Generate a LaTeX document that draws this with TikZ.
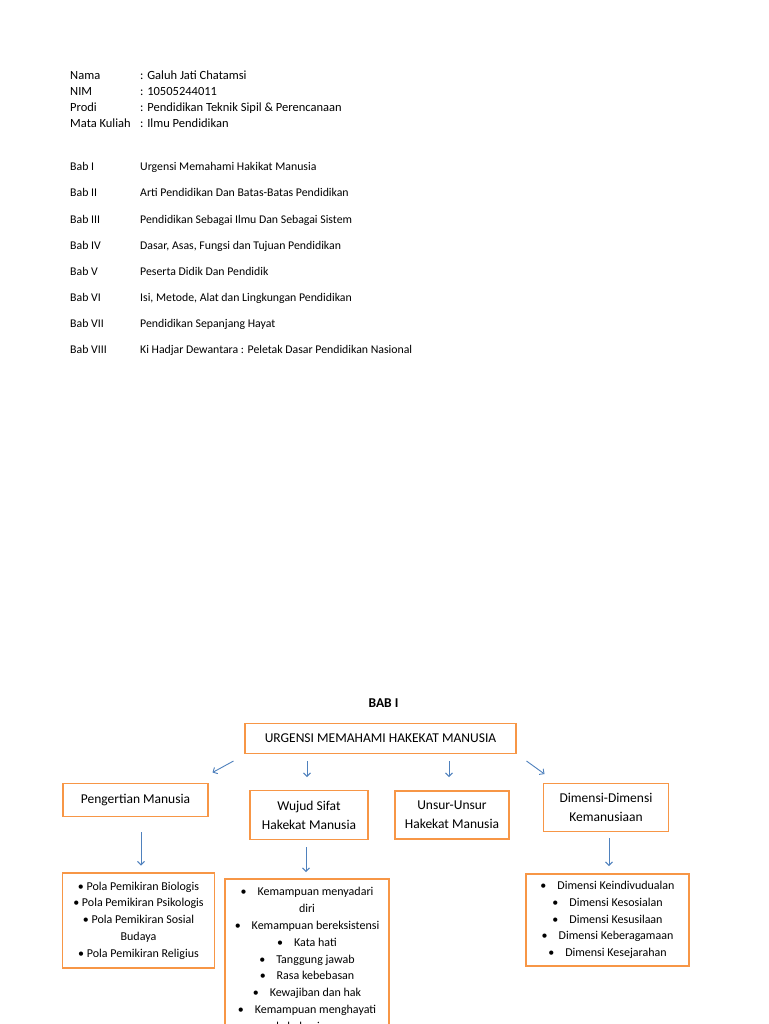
\documentclass[tikz,border=0pt]{standalone}
\usepackage{fontspec}
\setmainfont{Carlito}
\usetikzlibrary{arrows.meta}
\definecolor{boxorange}{HTML}{F79646}
\definecolor{arrowblue}{HTML}{4F81BD}
\newcommand{\bul}{\textbullet\ }
\newcommand{\tbul}{\textbullet\hspace{11pt}}

\begin{document}
\begin{tikzpicture}[x=1pt, y=-1pt,
  info/.style={anchor=base west, inner sep=0pt, font=\fontsize{12.5}{15}\selectfont},
  babline/.style={anchor=base west, inner sep=0pt, font=\fontsize{11.8}{14}\selectfont},
  ttl/.style={draw=boxorange, line width=1.8pt, fill=white, align=center,
    inner sep=2pt, font=\fontsize{13.5}{19}\selectfont},
  lst/.style={draw=boxorange, line width=1.8pt, fill=white, align=center,
    inner sep=2pt, font=\fontsize{12}{16.8}\selectfont},
  arr/.style={-{Straight Barb[length=3.5pt, width=7pt]}, arrowblue, line width=0.9pt},
]
\useasboundingbox[fill=white] (0,0) rectangle (768,1024);

% ── Identitas ──
\node[info] (lnama)  at (70,80)  {Nama};
\node[info] (vnama)  at (140,80) {: Galuh Jati Chatamsi};
\node[info] (lnim)   at (70,96)  {NIM};
\node[info] (vnim)   at (140,96) {: 10505244011};
\node[info] (lprodi) at (70,112) {Prodi};
\node[info] (vprodi) at (140,112) {: Pendidikan Teknik Sipil \& Perencanaan};
\node[info] (lmk)    at (70,128) {Mata Kuliah};
\node[info] (vmk)    at (140,128) {: Ilmu Pendidikan};

% ── Daftar bab ──
\node[babline] (b1) at (70,171) {Bab I};
\node[babline] (t1) at (140,171) {Urgensi Memahami Hakikat Manusia};
\node[babline] (b2) at (70,197) {Bab II};
\node[babline] (t2) at (140,197) {Arti Pendidikan Dan Batas-Batas Pendidikan};
\node[babline] (b3) at (70,223) {Bab III};
\node[babline] (t3) at (140,223) {Pendidikan Sebagai Ilmu Dan Sebagai Sistem};
\node[babline] (b4) at (70,249) {Bab IV};
\node[babline] (t4) at (140,249) {Dasar, Asas, Fungsi dan Tujuan Pendidikan};
\node[babline] (b5) at (70,275) {Bab V};
\node[babline] (t5) at (140,275) {Peserta Didik Dan Pendidik};
\node[babline] (b6) at (70,301) {Bab VI};
\node[babline] (t6) at (140,301) {Isi, Metode, Alat dan Lingkungan Pendidikan};
\node[babline] (b7) at (70,327) {Bab VII};
\node[babline] (t7) at (140,327) {Pendidikan Sepanjang Hayat};
\node[babline] (b8) at (70,353) {Bab VIII};
\node[babline] (t8) at (140,353) {Ki Hadjar Dewantara : Peletak Dasar Pendidikan Nasional};

% ── Bagan Bab I ──
\node[font=\fontsize{13.5}{16}\selectfont\bfseries] (bab) at (383.5,703) {BAB I};
\node[ttl, minimum width=271pt, minimum height=30pt] (urg) at (380.5,738.5)
  {URGENSI MEMAHAMI HAKEKAT MANUSIA};

\node[ttl, minimum width=145pt, minimum height=33pt] (peng) at (135.5,800)
  {Pengertian Manusia};
\node[ttl, minimum width=118pt, minimum height=49pt] (wujud) at (309,815)
  {Wujud Sifat\\Hakekat Manusia};
\node[ttl, minimum width=114pt, minimum height=48pt] (unsur) at (452,815)
  {Unsur-Unsur\\Hakekat Manusia};
\node[ttl, minimum width=125pt, minimum height=48pt] (dimen) at (606,807.5)
  {Dimensi-Dimensi\\Kemanusiaan};

\node[lst, minimum width=152pt, minimum height=95pt] (pola) at (138.5,920.5)
  {\bul Pola Pemikiran Biologis\\
   \bul Pola Pemikiran Psikologis\\
   \bul Pola Pemikiran Sosial\\
   Budaya\\
   \bul Pola Pemikiran Religius};
\node[lst, minimum width=164pt, minimum height=162pt] (kemam) at (307,960)
  {\tbul Kemampuan menyadari\\
   diri\\
   \tbul Kemampuan bereksistensi\\
   \tbul Kata hati\\
   \tbul Tanggung jawab\\
   \tbul Rasa kebebasan\\
   \tbul Kewajiban dan hak\\
   \tbul Kemampuan menghayati\\
   kebahagiaan};
\node[lst, minimum width=163pt, minimum height=92pt] (dimlist) at (607.5,920)
  {\tbul Dimensi Keindivudualan\\
   \tbul Dimensi Kesosialan\\
   \tbul Dimensi Kesusilaan\\
   \tbul Dimensi Keberagamaan\\
   \tbul Dimensi Kesejarahan};

% Panah dari judul ke empat kotak
\coordinate (a1s) at (233.5,761);  \coordinate (a1e) at (212.5,772.5);
\coordinate (a2s) at (307,761);    \coordinate (a2e) at (307,777);
\coordinate (a3s) at (449,761);    \coordinate (a3e) at (449,777);
\coordinate (a4s) at (526.5,761);  \coordinate (a4e) at (544.5,774);
\draw[arr] (a1s) -- (a1e);
\draw[arr] (a2s) -- (a2e);
\draw[arr] (a3s) -- (a3e);
\draw[arr] (a4s) -- (a4e);

% Panah ke kotak rincian
\coordinate (a5s) at (141,832);  \coordinate (a5e) at (141,865.5);
\coordinate (a6s) at (306,847);  \coordinate (a6e) at (306,872);
\coordinate (a7s) at (609,838);  \coordinate (a7e) at (609,866);
\draw[arr] (a5s) -- (a5e);
\draw[arr] (a6s) -- (a6e);
\draw[arr] (a7s) -- (a7e);
\end{tikzpicture}
\end{document}
